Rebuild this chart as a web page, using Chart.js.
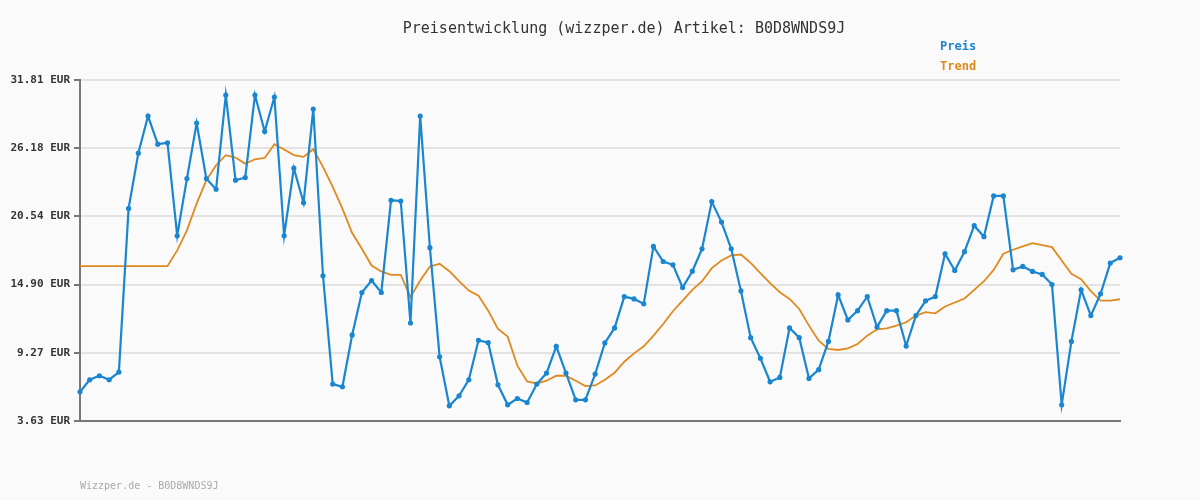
<!DOCTYPE html>
<html>
<head>
<meta charset="utf-8">
<script src="https://cdn.jsdelivr.net/npm/chart.js@4"></script>
<style>
  body { margin: 0; background: #fafafa; }
  #wrap { position: relative; width: 1200px; height: 500px; font-family: "DejaVu Sans Mono", monospace; }
  #title { position: absolute; top: 19px; left: 0; width: 1248px; text-align: center; font-size: 15px; color: #333; }
  .leg { position: absolute; left: 940px; font-size: 12px; font-weight: bold; }
  #foot { position: absolute; left: 80px; top: 480px; font-size: 10px; color: #aaa; }
  canvas { position: absolute; left: 0; top: 0; }
</style>
</head>
<body>
<div id="wrap">
  <canvas id="c" width="1200" height="500"></canvas>
  <div id="title">Preisentwicklung (wizzper.de) Artikel: B0D8WNDS9J</div>
  <div class="leg" style="top:39px;color:#1a86d0">Preis</div>
  <div class="leg" style="top:59px;color:#e08a1e">Trend</div>
  <div id="foot">Wizzper.de - B0D8WNDS9J</div>
</div>
<script>
// Price points
const preis = [
  6.04, 7.04, 7.37, 7.04, 7.67, 21.2, 25.76, 28.83, 26.51, 26.62,
  18.94, 23.66, 28.25, 23.66, 22.78, 30.57, 23.53, 23.75, 30.57, 27.56,
  30.40, 18.94, 24.52, 21.67, 29.41, 15.63, 6.68, 6.46, 10.74, 14.25,
  15.24, 14.25, 21.87, 21.81, 11.73, 28.83, 17.95,
  8.94, 4.88, 5.71, 7.04, 10.30, 10.10, 6.62, 4.97, 5.49, 5.16,
  6.68, 7.59, 9.80, 7.59, 5.38, 5.38, 7.51, 10.08, 11.32, 13.91,
  13.72, 13.31, 18.06, 16.81, 16.54, 14.66, 16.01, 17.86, 21.76, 20.07,
  17.86, 14.38, 10.52, 8.81, 6.87, 7.23,
  11.32, 10.52, 7.15, 7.87, 10.21, 14.05, 11.98, 12.75, 13.91, 11.40,
  12.75, 12.75, 9.83, 12.34, 13.56, 13.91, 17.45, 16.07, 17.62, 19.77,
  18.86, 22.23, 22.23, 16.12, 16.40, 15.99, 15.74, 14.91, 4.97, 10.21,
  14.47, 12.34, 14.14, 16.68, 17.12
];
const trend = [
  16.43, 16.43, 16.43, 16.43, 16.43, 16.43, 16.43, 16.43, 16.43, 16.43,
  17.73, 19.38, 21.59, 23.53, 24.77, 25.6, 25.4, 24.9, 25.26, 25.37,
  26.51, 26.07, 25.6, 25.46, 26.09, 24.63, 22.97, 21.18, 19.16, 17.86,
  16.48, 15.99, 15.71, 15.71, 13.86, 15.24, 16.4,
  16.62, 16.01, 15.18, 14.41, 13.99, 12.75, 11.24, 10.6, 8.2, 6.9,
  6.73, 6.96, 7.37, 7.37, 6.96, 6.51, 6.57, 7.04, 7.62, 8.53,
  9.22, 9.8, 10.68, 11.65, 12.7, 13.58, 14.47, 15.18, 16.26, 16.9,
  17.31, 17.39, 16.7, 15.85, 15.02, 14.27,
  13.72, 12.89, 11.51, 10.27, 9.58, 9.5, 9.63, 9.99, 10.68, 11.21,
  11.29, 11.51, 11.79, 12.34, 12.62, 12.53, 13.09, 13.42, 13.75, 14.47,
  15.18, 16.12, 17.45, 17.78, 18.06, 18.33, 18.17, 18.0, 16.9, 15.79,
  15.35, 14.36, 13.58, 13.58, 13.69
];
const yTicks = [3.63, 9.27, 14.90, 20.54, 26.18, 31.81];
const labels = preis.map((_, i) => i);

new Chart(document.getElementById("c"), {
  type: "line",
  data: {
    labels,
    datasets: [
      { label: "Preis", data: preis, borderColor: "#1a86d0", backgroundColor: "#1a86d0",
        borderWidth: 2.2, pointRadius: 1.5, pointHoverRadius: 1.5, tension: 0 },
      { label: "Trend", data: trend, borderColor: "#e08a1e", borderWidth: 1.8,
        pointRadius: 0, tension: 0 }
    ]
  },
  options: {
    responsive: false,
    animation: false,
    layout: { padding: { top: 80, right: 80, bottom: 71, left: 0 } },
    plugins: { legend: { display: false }, tooltip: { enabled: false } },
    scales: {
      x: {
        ticks: { display: false },
        grid: { display: false },
        border: { color: "#777", width: 2 }
      },
      y: {
        min: yTicks[0],
        max: yTicks[yTicks.length - 1],
        afterBuildTicks: ax => { ax.ticks = yTicks.map(v => ({ value: v })); },
        afterFit: ax => { ax.width = 80; },
        ticks: {
          callback: v => v.toFixed(2) + " EUR",
          color: "#333",
          font: { family: "DejaVu Sans Mono", size: 11, weight: "bold" },
          padding: 4
        },
        grid: { color: "#e3e3e3", lineWidth: 2, tickLength: 6, tickColor: "#777" },
        border: { color: "#777", width: 2 }
      }
    }
  }
});
</script>
</body>
</html>
